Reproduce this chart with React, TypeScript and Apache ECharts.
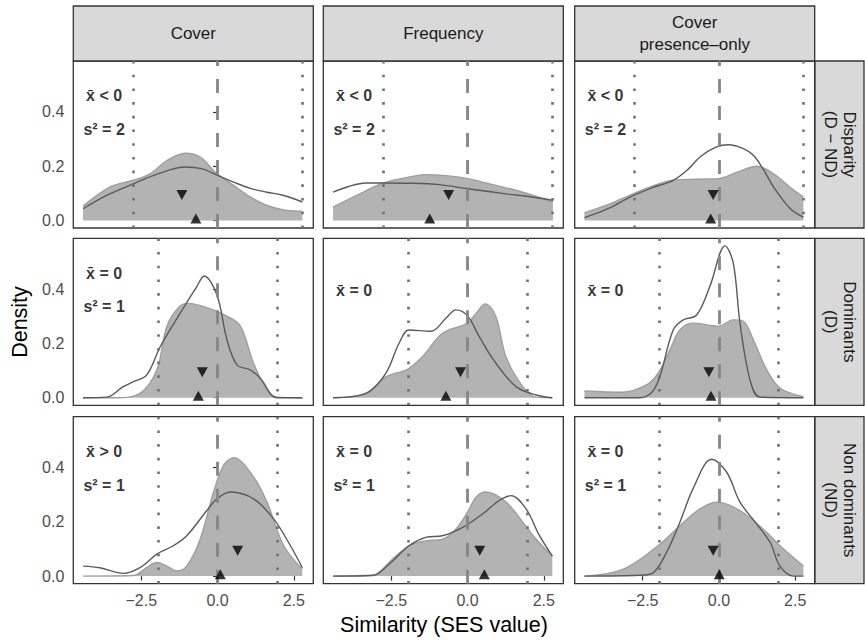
import React, { useEffect, useRef } from 'react';
import * as echarts from 'echarts';

// ---------- categories / labels ----------
const colNames = ['Cover', 'Frequency', 'Cover\npresence–only'];
const rowNames = ['Disparity\n(D − ND)', 'Dominants\n(D)', 'Non dominants\n(ND)'];
const xTicks = [-2.5, 0, 2.5];
const yTicks = [0, 0.2, 0.4];
const critByRow = [2.77, 1.96, 1.96]; // dotted lines at ± value

// ---------- densities: row Disparity (D − ND) ----------
const coverDND_fill = [[-4.41,0.053],[-3.53,0.123],[-2.76,0.148],[-2.21,0.172],[-1.66,0.221],[-1.06,0.248],[-0.57,0.234],[-0.02,0.172],[0.53,0.129],[1.08,0.086],[1.62,0.055],[2.17,0.039],[2.78,0.034]];
const coverDND_line = [[-4.41,0.043],[-3.64,0.092],[-2.76,0.135],[-2.0,0.17],[-1.06,0.197],[-0.5,0.19],[0.0,0.166],[0.53,0.141],[1.08,0.118],[1.62,0.104],[2.17,0.092],[2.78,0.068]];
const freqDND_fill = [[-4.41,0.049],[-3.5,0.1],[-2.76,0.138],[-2.0,0.158],[-1.37,0.169],[-0.7,0.165],[0,0.154],[0.9,0.13],[1.81,0.104],[2.8,0.068]];
const freqDND_line = [[-4.41,0.104],[-3.9,0.125],[-3.34,0.138],[-2.76,0.138],[-1.8,0.137],[-0.93,0.132],[0,0.117],[1.26,0.098],[2.0,0.088],[2.8,0.074]];
const poDND_fill = [[-4.41,0.028],[-3.6,0.06],[-2.82,0.098],[-2.1,0.13],[-1.5,0.148],[-0.7,0.152],[0,0.154],[0.6,0.178],[1.24,0.2],[1.79,0.172],[2.3,0.125],[2.77,0.086]];
const poDND_line = [[-4.41,0.01],[-3.6,0.045],[-2.92,0.086],[-2.2,0.12],[-1.5,0.148],[-1.0,0.19],[-0.62,0.234],[-0.1,0.27],[0.31,0.279],[0.8,0.265],[1.13,0.24],[1.5,0.18],[1.79,0.123],[2.34,0.043],[2.77,0.012]];

// ---------- densities: row Dominants (D) ----------
const coverD_fill = [[-4.41,0],[-3.31,0],[-2.54,0.016],[-1.99,0.103],[-1.66,0.264],[-1.23,0.338],[-0.95,0.348],[-0.35,0.332],[0.31,0.301],[0.75,0.264],[1.18,0.127],[1.62,0.029],[1.95,0.002],[2.78,0]];
const coverD_line = [[-4.41,0],[-3.64,0.002],[-3.09,0.041],[-2.76,0.059],[-2.32,0.084],[-1.88,0.188],[-1.23,0.311],[-0.68,0.41],[-0.44,0.449],[-0.02,0.379],[0.31,0.213],[0.64,0.121],[1.08,0.102],[1.4,0.072],[1.95,0.0],[2.78,0]];
const freqD_fill = [[-4.41,0],[-3.34,0.016],[-2.68,0.077],[-1.97,0.105],[-1.48,0.151],[-0.82,0.238],[0,0.275],[0.28,0.311],[0.58,0.346],[0.93,0.299],[1.26,0.151],[1.81,0.041],[2.25,0.002],[2.78,0]];
const freqD_line = [[-4.41,0],[-3.34,0.015],[-2.68,0.09],[-2.25,0.2],[-1.92,0.25],[-1.2,0.245],[-0.71,0.293],[-0.38,0.324],[0,0.302],[0.38,0.226],[0.93,0.127],[1.59,0.041],[2.25,0.01],[2.78,0]];
const poD_fill = [[-4.41,0.025],[-3.15,0.02],[-2.38,0.047],[-2.0,0.09],[-1.61,0.176],[-1.28,0.25],[-0.85,0.275],[0,0.264],[0.47,0.287],[0.8,0.282],[1.13,0.213],[1.57,0.102],[2.01,0.035],[2.77,0.004]];
const poD_line = [[-4.41,0],[-2.6,0],[-2.2,0.02],[-1.94,0.077],[-1.5,0.25],[-1.17,0.287],[-0.73,0.305],[-0.3,0.41],[0.2,0.56],[0.47,0.496],[0.69,0.275],[1.02,0.065],[1.35,0.002],[2.77,0]];

// ---------- densities: row Non dominants (ND) ----------
const coverND_fill = [[-4.41,0],[-2.76,0.002],[-2.32,0.031],[-1.99,0.05],[-1.66,0.037],[-1.34,0.019],[-1.01,0.037],[-0.57,0.136],[-0.13,0.31],[0.2,0.409],[0.53,0.437],[1.18,0.366],[1.62,0.273],[2.17,0.112],[2.78,0.025]];
const coverND_line = [[-4.41,0.037],[-3.86,0.031],[-3.09,0.01],[-2.54,0.031],[-1.99,0.081],[-1.45,0.112],[-1.01,0.149],[-0.35,0.242],[-0.02,0.285],[0.42,0.31],[1.18,0.285],[1.84,0.211],[2.39,0.112],[2.78,0.031]];
const freqND_fill = [[-4.41,0],[-3.12,0.003],[-2.47,0.062],[-1.92,0.112],[-1.37,0.13],[-0.82,0.136],[-0.38,0.174],[0,0.236],[0.28,0.291],[0.6,0.31],[1.26,0.273],[1.81,0.199],[2.25,0.136],[2.78,0.074]];
const freqND_line = [[-4.41,0],[-3.12,0.002],[-2.58,0.043],[-1.92,0.112],[-1.37,0.143],[-0.82,0.149],[-0.16,0.18],[0.49,0.229],[1.04,0.279],[1.43,0.297],[1.92,0.248],[2.36,0.149],[2.78,0.074]];
const poND_fill = [[-4.41,0],[-3.15,0.025],[-2.0,0.112],[-1.28,0.186],[-0.62,0.248],[-0.08,0.273],[0.69,0.242],[1.57,0.161],[2.0,0.112],[2.77,0.037]];
const poND_line = [[-4.41,0],[-2.6,0.003],[-2.16,0.012],[-1.72,0.087],[-1.28,0.199],[-0.85,0.322],[-0.24,0.431],[0.25,0.384],[0.69,0.273],[1.24,0.192],[1.68,0.124],[2.0,0.037],[2.45,0],[2.77,0]];

// ---------- means (triangles) ----------
const lineMeanDND = [-1.17, -0.62, -0.19];
const lineMeanD = [-0.5, -0.23, -0.33];
const lineMeanND = [0.66, 0.4, -0.19];
const fillMeanDND = [-0.71, -1.24, -0.27];
const fillMeanD = [-0.63, -0.71, -0.26];
const fillMeanND = [0.09, 0.55, 0.01];
const lineMeanLevel = 0.1;
const fillMeanLevel = 0;

// ---------- annotations ----------
const annDND = [['x̄ < 0', 's² = 2'], ['x̄ < 0', 's² = 2'], ['x̄ < 0', 's² = 2']];
const annD = [['x̄ = 0', 's² = 1'], ['x̄ = 0'], ['x̄ = 0']];
const annND = [['x̄ > 0', 's² = 1'], ['x̄ = 0', 's² = 1'], ['x̄ = 0', 's² = 1']];

const FONT = '"Liberation Sans", Arial, Helvetica, sans-serif';

export default function App() {
  const ref = useRef<HTMLDivElement>(null);
  useEffect(() => {
    if (!ref.current) return;
    const chart = echarts.init(ref.current, undefined, { renderer: 'svg' });

    const fills = [[coverDND_fill, freqDND_fill, poDND_fill], [coverD_fill, freqD_fill, poD_fill], [coverND_fill, freqND_fill, poND_fill]];
    const lines = [[coverDND_line, freqDND_line, poDND_line], [coverD_line, freqD_line, poD_line], [coverND_line, freqND_line, poND_line]];
    const lineMeans = [lineMeanDND, lineMeanD, lineMeanND];
    const fillMeans = [fillMeanDND, fillMeanD, fillMeanND];
    const anns = [annDND, annD, annND];

    const colLeft = [73.3, 323.3, 574.7];
    const rowTop = [61, 238.3, 416.7];
    const W = 240;
    const H = 167;
    const X_MIN = -4.73, X_MAX = 3.14, Y_MIN = -0.028, Y_MAX = 0.588;

    const grid: any[] = [];
    const xAxis: any[] = [];
    const yAxis: any[] = [];
    const series: any[] = [];
    const graphic: any[] = [];

    const fmt = (v: number) => (v < 0 ? '−' : '') + Math.abs(v).toFixed(1);

    for (let r = 0; r < 3; r++) {
      for (let c = 0; c < 3; c++) {
        const idx = r * 3 + c;
        grid.push({ left: colLeft[c], top: rowTop[r], width: W, height: H, show: true, borderColor: '#333333', borderWidth: 1.3, backgroundColor: '#ffffff', containLabel: false });
        const bottom = r === 2;
        const left = c === 0;
        xAxis.push({
          type: 'value', gridIndex: idx, min: X_MIN, max: X_MAX,
          splitLine: { show: false }, axisLine: { show: false },
          axisTick: { show: bottom, length: 4.5, lineStyle: { color: '#333333', width: 1.2 }, customValues: xTicks },
          axisLabel: { show: bottom, margin: 9, color: '#4d4d4d', fontSize: 16, fontFamily: FONT, customValues: xTicks, formatter: fmt },
        });
        yAxis.push({
          type: 'value', gridIndex: idx, min: Y_MIN, max: Y_MAX,
          splitLine: { show: false }, axisLine: { show: false },
          axisTick: { show: left, length: 4.5, lineStyle: { color: '#333333', width: 1.2 }, customValues: yTicks },
          axisLabel: { show: left, margin: 9, color: '#4d4d4d', fontSize: 16, fontFamily: FONT, customValues: yTicks, formatter: (v: number) => v.toFixed(1) },
        });
        const crit = critByRow[r];
        series.push({
          type: 'line', xAxisIndex: idx, yAxisIndex: idx, data: fills[r][c], smooth: 0.35, symbol: 'none', silent: true, z: 2,
          lineStyle: { color: '#9e9e9e', width: 1.4 }, areaStyle: { color: '#b3b3b3', opacity: 1 },
        });
        series.push({
          type: 'line', xAxisIndex: idx, yAxisIndex: idx, data: lines[r][c], smooth: 0.35, symbol: 'none', silent: true, z: 4,
          lineStyle: { color: '#5a5a5a', width: 1.4 },
        });
        series.push({
          type: 'line', xAxisIndex: idx, yAxisIndex: idx, data: [], silent: true, z: 5,
          markLine: {
            silent: true, symbol: 'none', label: { show: false }, animation: false,
            data: [
              { xAxis: 0, lineStyle: { color: '#868686', width: 2.8, type: [14, 13] } },
              { xAxis: -crit, lineStyle: { color: '#707070', width: 2.6, type: [2.6, 11.1] } },
              { xAxis: crit, lineStyle: { color: '#707070', width: 2.6, type: [2.6, 11.1] } },
            ],
          },
        });
        series.push({
          type: 'scatter', xAxisIndex: idx, yAxisIndex: idx, silent: true, z: 10,
          itemStyle: { color: '#000000' },
          data: [
            { value: [lineMeans[r][c], lineMeanLevel], symbol: 'path://M0,0L10,0L5,9Z', symbolSize: [11, 10], symbolOffset: [0, 1.7] },
            { value: [fillMeans[r][c], fillMeanLevel], symbol: 'path://M5,0L10,9L0,9Z', symbolSize: [11, 10], symbolOffset: [0, -1.9] },
          ],
        });
        const a = anns[r][c];
        const ys = a.length === 2 ? [0.46, 0.335] : [0.395];
        series.push({
          type: 'scatter', xAxisIndex: idx, yAxisIndex: idx, silent: true, z: 11, symbolSize: 1,
          itemStyle: { color: 'rgba(0,0,0,0)' },
          label: { show: true, position: 'inside', formatter: '{b}', fontFamily: FONT, fontWeight: 'bold', fontSize: 16, color: '#000000' },
          data: a.map((t, i) => ({ name: t, value: [-3.72, ys[i]] })),
        });
      }
    }

    // top strips
    for (let c = 0; c < 3; c++) {
      graphic.push({ type: 'rect', shape: { x: colLeft[c], y: 6, width: W, height: 55 }, style: { fill: '#d9d9d9', stroke: '#333333', lineWidth: 1.3 }, silent: true });
      graphic.push({ type: 'text', x: colLeft[c] + W / 2, y: 33.5, silent: true, style: { text: colNames[c], fill: '#1a1a1a', font: `17px ${FONT}`, align: 'center', verticalAlign: 'middle', lineHeight: 21.5 } });
    }
    // right strips
    for (let r = 0; r < 3; r++) {
      graphic.push({ type: 'rect', shape: { x: 815, y: rowTop[r], width: 49, height: H }, style: { fill: '#d9d9d9', stroke: '#333333', lineWidth: 1.3 }, silent: true });
      graphic.push({ type: 'text', x: 839.5, y: rowTop[r] + H / 2, rotation: -Math.PI / 2, silent: true, style: { text: rowNames[r], fill: '#1a1a1a', font: `17px ${FONT}`, align: 'center', verticalAlign: 'middle', lineHeight: 19 } });
    }
    // axis titles
    graphic.push({ type: 'text', x: 20, y: 322, rotation: Math.PI / 2, silent: true, style: { text: 'Density', fill: '#000000', font: `21.5px ${FONT}`, align: 'center', verticalAlign: 'middle' } });
    graphic.push({ type: 'text', x: 444, y: 625, silent: true, style: { text: 'Similarity (SES value)', fill: '#000000', font: `21.5px ${FONT}`, align: 'center', verticalAlign: 'middle' } });

    chart.setOption({ animation: false, backgroundColor: '#ffffff', grid, xAxis, yAxis, series, graphic });
    return () => chart.dispose();
  }, []);
  return <div ref={ref} style={{ position: 'absolute', left: 0, top: 0, width: 865, height: 643 }} />;
}
